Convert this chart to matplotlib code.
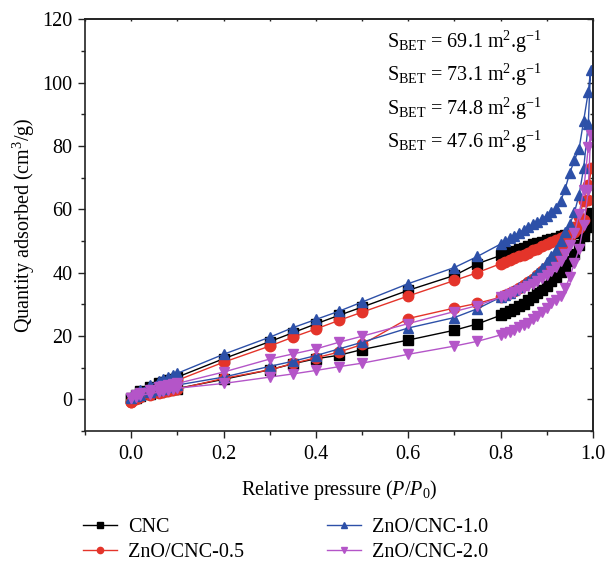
import numpy as np
import matplotlib.pyplot as plt

plt.rcParams['font.family'] = 'Liberation Serif'
plt.rcParams['mathtext.fontset'] = 'custom'
plt.rcParams['mathtext.rm'] = 'Liberation Serif'
plt.rcParams['mathtext.it'] = 'Liberation Serif:italic'

# Relative pressure grids (adsorption goes up, desorption comes back down)
p_ads = [0.0, 0.01, 0.02, 0.04, 0.06, 0.07, 0.08, 0.09, 0.10,
         0.20, 0.30, 0.35, 0.40, 0.45, 0.50, 0.60, 0.70, 0.75,
         0.80, 0.81, 0.82, 0.83, 0.84, 0.85, 0.86, 0.87, 0.88, 0.89,
         0.90, 0.91, 0.92, 0.93, 0.94, 0.95, 0.96, 0.97, 0.98, 0.99, 0.995]
p_des = [0.99, 0.98, 0.97, 0.96, 0.95, 0.94, 0.93, 0.92, 0.91, 0.90,
         0.89, 0.88, 0.87, 0.86, 0.85, 0.84, 0.83, 0.82, 0.81, 0.80,
         0.75, 0.70, 0.60, 0.50, 0.45, 0.40, 0.35, 0.30, 0.20,
         0.10, 0.09, 0.08, 0.07, 0.06, 0.04, 0.02, 0.01, 0.0]

# Quantity adsorbed (cm3/g)
cnc_ads = [0.0, 0.5, 1.0, 1.6, 2.2, 2.5, 2.8, 3.1, 3.4,
           6.3, 9.3, 11.2, 12.8, 13.9, 15.7, 18.7, 21.8, 23.8,
           26.5, 27.1, 27.8, 28.5, 29.3, 30.2, 31.2, 32.3, 33.4, 34.6,
           35.8, 37.2, 38.6, 40.2, 42.0, 43.8, 46.0, 48.6, 51.5, 54.5, 58.8]
cnc_des = [55.5, 53.5, 52.8, 52.4, 52.1, 51.8, 51.4, 51.0, 50.6, 50.2,
           49.8, 49.4, 48.9, 48.4, 47.9, 47.4, 46.9, 46.4, 45.9, 45.4,
           42.8, 39.1, 34.4, 29.1, 26.5, 23.8, 21.0, 18.2, 12.8,
           7.0, 6.5, 6.0, 5.5, 5.0, 3.8, 2.5, 1.5, 0.3]

zc05_ads = [-1.0, 0.0, 0.6, 1.3, 2.0, 2.3, 2.6, 2.9, 3.2,
            6.6, 9.3, 11.3, 13.1, 14.9, 17.3, 25.5, 28.8, 30.3,
            32.2, 32.8, 33.5, 34.3, 35.1, 36.0, 37.0, 38.1, 39.3, 40.5,
            41.8, 43.3, 45.0, 47.0, 49.2, 51.5, 54.4, 57.5, 62.5, 67.5, 73.0]
zc05_des = [62.8, 56.5, 54.0, 52.8, 52.0, 51.4, 50.8, 50.2, 49.6, 49.0,
            48.3, 47.6, 47.0, 46.3, 45.7, 45.1, 44.5, 43.9, 43.3, 42.8,
            40.0, 37.5, 32.6, 27.5, 24.9, 22.2, 19.6, 16.8, 11.7,
            6.0, 5.5, 5.0, 4.5, 4.0, 3.0, 1.8, 0.8, -0.8]

zc10_ads = [0.5, 1.0, 1.5, 2.3, 3.0, 3.4, 3.8, 4.1, 4.5,
            7.0, 10.4, 12.0, 13.8, 15.9, 18.0, 22.5, 25.8, 28.6,
            32.2, 32.9, 33.6, 34.4, 35.3, 36.3, 37.3, 38.6, 39.9, 41.4,
            43.2, 45.2, 47.2, 50.0, 52.8, 55.2, 59.0, 64.5, 73.0, 87.0, 104.0]
zc10_des = [97.0, 88.0, 79.0, 75.5, 71.5, 66.5, 62.5, 60.5, 59.2, 58.0,
            57.0, 56.0, 55.2, 54.4, 53.5, 52.6, 51.7, 50.8, 49.9, 49.0,
            45.1, 41.6, 36.5, 30.7, 27.8, 25.2, 22.6, 19.6, 14.2,
            8.2, 7.6, 7.0, 6.4, 5.8, 4.5, 3.0, 2.0, 0.8]

zc20_ads = [0.3, 0.8, 1.2, 1.8, 2.3, 2.6, 2.9, 3.2, 3.5,
            5.0, 7.0, 8.0, 9.1, 10.3, 11.4, 14.2, 16.8, 18.3,
            20.3, 20.8, 21.4, 22.0, 22.7, 23.4, 24.2, 25.2, 26.3, 27.5,
            28.8, 30.3, 31.2, 32.5, 35.0, 38.6, 43.0, 47.5, 55.0, 66.0, 83.3]
zc20_des = [79.5, 66.0, 58.5, 52.5, 48.6, 45.8, 43.5, 41.8, 40.4, 39.2,
            38.2, 37.3, 36.5, 35.8, 35.1, 34.4, 33.8, 33.2, 32.7, 32.2,
            29.6, 27.7, 23.9, 19.9, 18.0, 15.9, 14.3, 12.7, 8.6,
            5.0, 4.7, 4.4, 4.1, 3.8, 3.0, 2.0, 1.2, 0.3]

labels = ['CNC', 'ZnO/CNC-0.5', 'ZnO/CNC-1.0', 'ZnO/CNC-2.0']
s_bet = ['69.1', '73.1', '74.8', '47.6']

series = [
    (cnc_ads, cnc_des, '#000000', 's'),
    (zc05_ads, zc05_des, '#e4342a', 'o'),
    (zc10_ads, zc10_des, '#2d50a8', '^'),
    (zc20_ads, zc20_des, '#b455c8', 'v'),
]

fig = plt.figure(figsize=(6.05, 5.63), dpi=100)
ax = fig.add_axes([0.1405, 0.2345, 0.8395, 0.7315])

p_loop = np.array(p_ads + p_des)
for (q_a, q_d, color, marker), label in zip(series, labels):
    q_loop = np.array(q_a + q_d)
    ax.plot(p_loop, q_loop, color=color, marker=marker, markersize=7.5,
            linewidth=1.0, label=label)

ax.set_xlim(-0.1, 1.0)
ax.set_ylim(-10, 120)
x_major = [0.0, 0.2, 0.4, 0.6, 0.8, 1.0]
x_minor = np.arange(-0.1, 1.01, 0.1)
y_major = [0, 20, 40, 60, 80, 100, 120]
y_minor = np.arange(-10, 121, 10)
ax.set_xticks(x_major)
ax.set_xticks(x_minor, minor=True)
ax.set_yticks(y_major)
ax.set_yticks(y_minor, minor=True)
ax.xaxis.set_major_formatter(plt.FormatStrFormatter('%.1f'))

# outward ticks on left/bottom
ax.tick_params(axis='both', which='both', labelsize=14.5, width=1.0, color='#222222')
ax.tick_params(which='major', length=5)
ax.tick_params(which='minor', length=3)
ax.tick_params(axis='x', pad=5)
ax.tick_params(axis='y', pad=4)
for side in ['left', 'right', 'top', 'bottom']:
    ax.spines[side].set_linewidth(1.2)
    ax.spines[side].set_color('#222222')

# inward ticks on the right, tiny ones along the top
right = ax.secondary_yaxis('right')
right.set_yticks(y_major)
right.set_yticks(y_minor, minor=True)
right.tick_params(which='both', direction='in', labelright=False, color='#222222', width=1.0)
right.tick_params(which='major', length=4)
right.tick_params(which='minor', length=2.5)
right.spines['right'].set_linewidth(1.2)
right.spines['right'].set_color('#222222')

top = ax.secondary_xaxis('top')
top.set_xticks(x_major)
top.set_xticks(x_minor, minor=True)
top.tick_params(which='both', direction='in', labeltop=False, length=1.5,
                color='#222222', width=1.0)
top.spines['top'].set_linewidth(1.2)
top.spines['top'].set_color('#222222')

ax.set_xlabel(r'Relative pressure ($\it{P}$/$\it{P}_{\mathregular{0}}$)', fontsize=14.5, labelpad=10)
ax.set_ylabel(r'Quantity adsorbed (cm$^{\mathregular{3}}$/g)', fontsize=14.5, labelpad=4)

for i, val in enumerate(s_bet):
    ax.text(0.594, 0.945 - i * 0.081,
            r'S$_{\mathregular{BET}}$ = ' + val + r' m$^{\mathregular{2}}$.g$^{\mathregular{-1}}$',
            transform=ax.transAxes, fontsize=14.5, va='center', ha='left')

fig.legend(loc='upper left', bbox_to_anchor=(0.124, 0.094), ncol=2, frameon=False,
           fontsize=14.5, markerscale=0.6, handlelength=1.7, handletextpad=0.55,
           columnspacing=4.1, labelspacing=0.3, borderaxespad=0)

fig.savefig('out.png', dpi=100)
